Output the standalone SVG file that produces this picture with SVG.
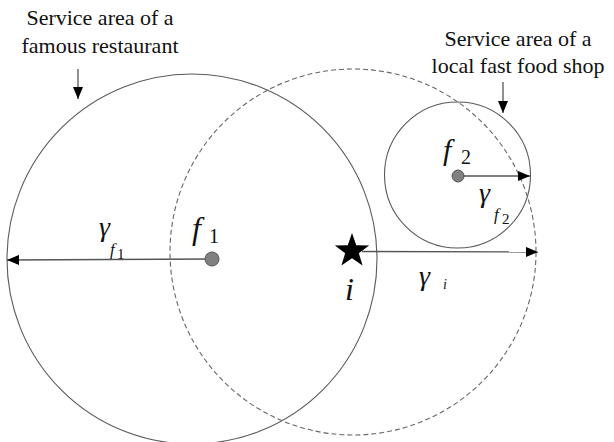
<svg xmlns="http://www.w3.org/2000/svg" width="614" height="442" viewBox="0 0 614 442">
<style>
.area{fill:none;stroke:#5a5a5a;stroke-width:1.1}
.dash{fill:none;stroke:#666;stroke-width:1.1;stroke-dasharray:5 3}
.ray{stroke:#555;stroke-width:1.3;fill:none}
.lbl{font-size:22px;fill:#111;text-anchor:middle}
.sym{font-style:italic;fill:#111}
.sub{fill:#111}
.dot{fill:#808080;stroke:#555;stroke-width:1}
</style>
<defs>
<marker id="ah" viewBox="0 0 12 10" refX="12" refY="5" markerWidth="12" markerHeight="10" markerUnits="userSpaceOnUse" orient="auto">
<path d="M0,0 L12,5 L0,10 Z" fill="#000"/>
</marker>
</defs>
<g id="restaurant-area"><circle class="area" cx="192" cy="259" r="185"/></g>
<g id="i-area"><circle class="dash" cx="353" cy="252" r="183"/></g>
<g id="shop-area"><circle class="area" cx="457.5" cy="175" r="73"/></g>
<g id="connectors">
<line class="ray" x1="212" y1="259" x2="7" y2="260" marker-end="url(#ah)"/>
<line class="ray" x1="458" y1="176" x2="530" y2="176" marker-end="url(#ah)"/>
<line class="ray" x1="362" y1="251.5" x2="538" y2="252" marker-end="url(#ah)"/>
<line class="ray" x1="78" y1="69" x2="78" y2="99" marker-end="url(#ah)"/>
<line class="ray" x1="503" y1="82" x2="503" y2="113" marker-end="url(#ah)"/>
</g>
<g font-family="Liberation Serif, DejaVu Serif, Times New Roman, Times, serif">
<g id="f1">
<circle class="dot" cx="212" cy="259" r="7"/>
<text class="sym" x="192" y="239" font-size="32">f</text>
<text class="sub" x="209" y="243" font-size="20">1</text>
</g>
<g id="f2">
<circle class="dot" cx="458" cy="176" r="6"/>
<text class="sym" x="443" y="160" font-size="30">f</text>
<text class="sub" x="461" y="164" font-size="20">2</text>
</g>
<g id="i">
<polygon points="352,233 356.23,245.17 369.12,245.44 358.85,253.23 362.58,265.56 352,258.2 341.42,265.56 345.15,253.23 334.88,245.44 347.77,245.17" fill="#000"/>
<text class="sym" x="345" y="300" font-size="32">i</text>
</g>
<g id="r-f1">
<text class="sym" x="99" y="236" font-size="28">γ</text>
<text class="sym" x="110" y="255" font-size="17">f</text>
<text class="sub" x="117" y="259" font-size="15">1</text>
</g>
<g id="r-f2">
<text class="sym" x="479" y="202" font-size="28">γ</text>
<text class="sym" x="494" y="220" font-size="17">f</text>
<text class="sub" x="502" y="224" font-size="15">2</text>
</g>
<g id="r-i">
<text class="sym" x="419" y="285" font-size="28">γ</text>
<text class="sym" x="443" y="289" font-size="14">i</text>
</g>
<g id="label-restaurant">
<text class="lbl" x="100" y="25">Service area of a</text>
<text class="lbl" x="100" y="53">famous restaurant</text>
</g>
<g id="label-shop">
<text class="lbl" x="518" y="46">Service area of a</text>
<text class="lbl" x="518" y="73">local fast food shop</text>
</g>
</g>
</svg>
